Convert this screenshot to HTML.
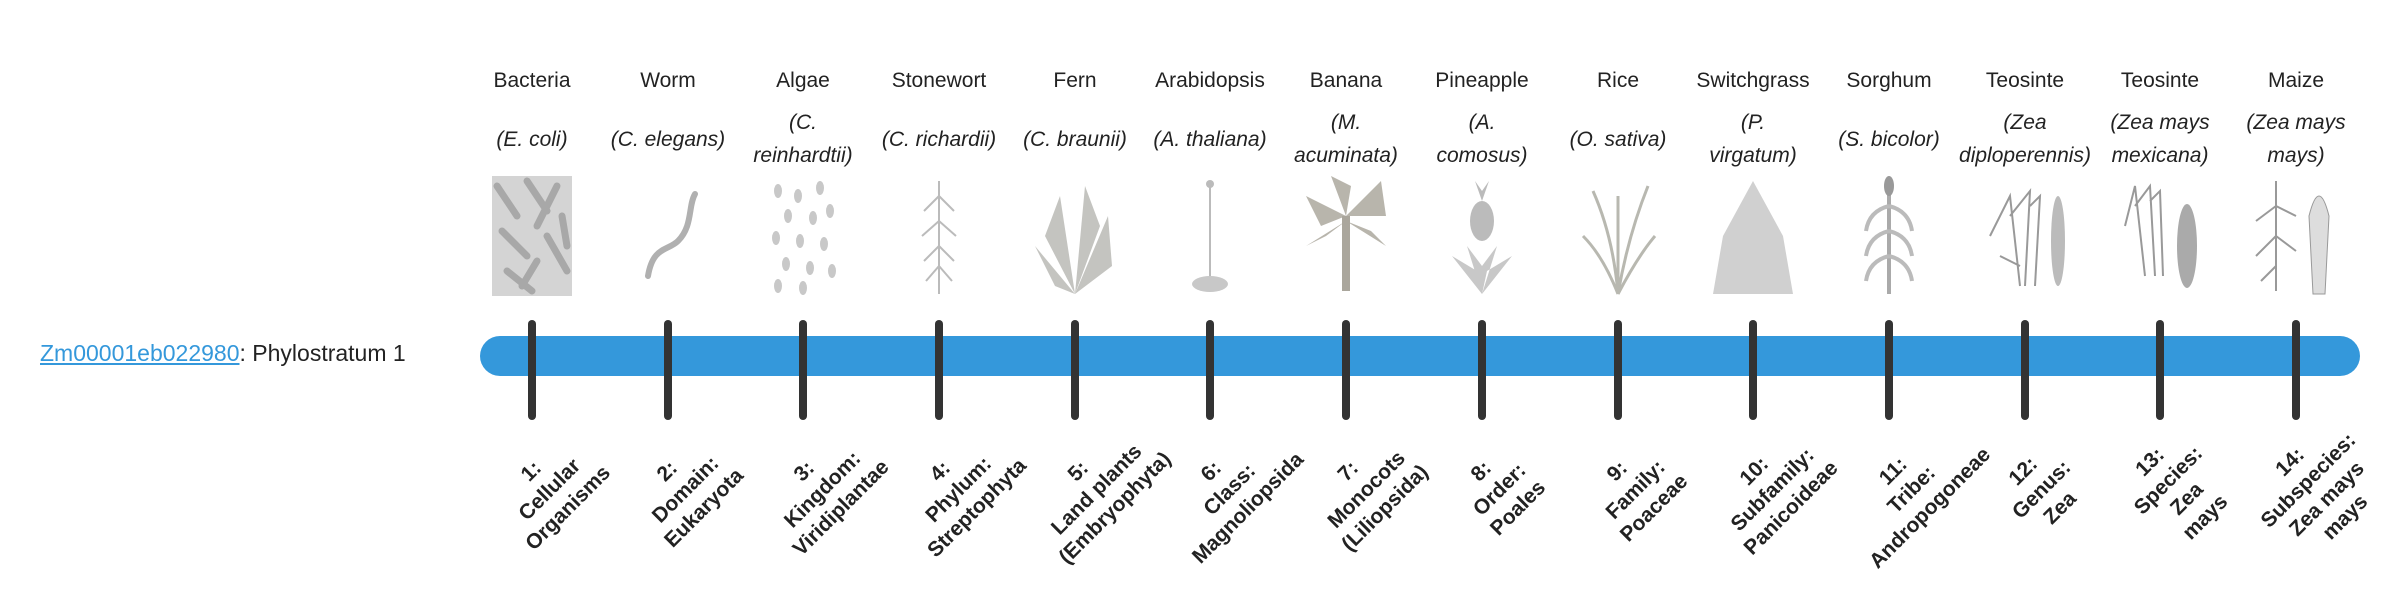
<!DOCTYPE html>
<html><head><meta charset="utf-8"><style>
html,body{margin:0;padding:0;background:#fff;width:2400px;height:580px;overflow:hidden;font-family:"Liberation Sans",sans-serif;color:#222}
.lk{position:absolute;left:40px;top:339px;font-size:23px;line-height:28px;white-space:nowrap}
.lk a{color:#3498db;text-decoration:underline}
.bar{position:absolute;left:480px;top:336px;width:1880px;height:40px;border-radius:20px;background:#3498db}
.t{position:absolute;top:320px;width:8px;height:100px;margin-left:-4px;border-radius:4px;background:#333}
.c{position:absolute;width:150px;margin-left:-75px;text-align:center}
.n{top:67px;font-size:21px;line-height:28px;white-space:nowrap}
.s{top:106px;height:66px;font-size:21px;line-height:33px;font-style:italic;display:flex;align-items:center;justify-content:center;white-space:nowrap}
.im{position:absolute;top:176px;width:90px;height:120px;margin-left:-45px}
.b{position:absolute;top:490px;width:190px;text-align:center;font-weight:bold;font-size:21px;line-height:26px;color:#222;transform:translate(-50%,-50%) rotate(-45deg);white-space:nowrap}
</style></head><body>
<div class="lk"><a>Zm00001eb022980</a>: Phylostratum 1</div>
<div class="bar"></div>

<div class="c n" style="left:532px">Bacteria</div>
<div class="c n" style="left:668px">Worm</div>
<div class="c n" style="left:803px">Algae</div>
<div class="c n" style="left:939px">Stonewort</div>
<div class="c n" style="left:1075px">Fern</div>
<div class="c n" style="left:1210px">Arabidopsis</div>
<div class="c n" style="left:1346px">Banana</div>
<div class="c n" style="left:1482px">Pineapple</div>
<div class="c n" style="left:1618px">Rice</div>
<div class="c n" style="left:1753px">Switchgrass</div>
<div class="c n" style="left:1889px">Sorghum</div>
<div class="c n" style="left:2025px">Teosinte</div>
<div class="c n" style="left:2160px">Teosinte</div>
<div class="c n" style="left:2296px">Maize</div>

<div class="c s" style="left:532px"><span>(E. coli)</span></div>
<div class="c s" style="left:668px"><span>(C. elegans)</span></div>
<div class="c s" style="left:803px"><span>(C.<br>reinhardtii)</span></div>
<div class="c s" style="left:939px"><span>(C. richardii)</span></div>
<div class="c s" style="left:1075px"><span>(C. braunii)</span></div>
<div class="c s" style="left:1210px"><span>(A. thaliana)</span></div>
<div class="c s" style="left:1346px"><span>(M.<br>acuminata)</span></div>
<div class="c s" style="left:1482px"><span>(A.<br>comosus)</span></div>
<div class="c s" style="left:1618px"><span>(O. sativa)</span></div>
<div class="c s" style="left:1753px"><span>(P.<br>virgatum)</span></div>
<div class="c s" style="left:1889px"><span>(S. bicolor)</span></div>
<div class="c s" style="left:2025px"><span>(Zea<br>diploperennis)</span></div>
<div class="c s" style="left:2160px"><span>(Zea mays<br>mexicana)</span></div>
<div class="c s" style="left:2296px"><span>(Zea mays<br>mays)</span></div>

<svg class="im" style="left:532px" viewBox="0 0 90 120"><rect x="5" y="0" width="80" height="120" fill="#d4d4d4"/><g stroke="#a8a8a8" stroke-width="7" stroke-linecap="round"><line x1="10" y1="10" x2="30" y2="40"/><line x1="40" y1="5" x2="60" y2="35"/><line x1="70" y1="10" x2="50" y2="50"/><line x1="15" y1="55" x2="40" y2="80"/><line x1="60" y1="60" x2="80" y2="95"/><line x1="20" y1="95" x2="45" y2="115"/><line x1="50" y1="85" x2="35" y2="110"/><line x1="75" y1="40" x2="80" y2="70"/></g></svg>
<svg class="im" style="left:668px" viewBox="0 0 90 120"><path d="M25 100 C30 70 45 75 55 65 C70 50 65 30 72 18" stroke="#b0b0b0" stroke-width="6" fill="none" stroke-linecap="round"/></svg>
<svg class="im" style="left:803px" viewBox="0 0 90 120"><g fill="#c8c8c8"><ellipse cx="20" cy="15" rx="4" ry="7"/><ellipse cx="40" cy="20" rx="4" ry="7"/><ellipse cx="62" cy="12" rx="4" ry="7"/><ellipse cx="30" cy="40" rx="4" ry="7"/><ellipse cx="55" cy="42" rx="4" ry="7"/><ellipse cx="72" cy="35" rx="4" ry="7"/><ellipse cx="18" cy="62" rx="4" ry="7"/><ellipse cx="42" cy="65" rx="4" ry="7"/><ellipse cx="66" cy="68" rx="4" ry="7"/><ellipse cx="28" cy="88" rx="4" ry="7"/><ellipse cx="52" cy="92" rx="4" ry="7"/><ellipse cx="74" cy="95" rx="4" ry="7"/><ellipse cx="20" cy="110" rx="4" ry="7"/><ellipse cx="45" cy="112" rx="4" ry="7"/></g></svg>
<svg class="im" style="left:939px" viewBox="0 0 90 120"><g stroke="#bbb" stroke-width="2" fill="none"><line x1="45" y1="5" x2="45" y2="118"/><path d="M45 20 L30 35 M45 20 L60 35 M45 45 L28 60 M45 45 L62 60 M45 70 L30 85 M45 70 L60 85 M45 90 L32 105 M45 90 L58 105"/></g></svg>
<svg class="im" style="left:1075px" viewBox="0 0 90 120"><path d="M45 118 L30 20 L15 60 Z M45 118 L55 10 L70 50 Z M45 118 L78 40 L82 90 Z M45 118 L5 70 L25 110 Z" fill="#c4c4c0"/></svg>
<svg class="im" style="left:1210px" viewBox="0 0 90 120"><g stroke="#bbb" stroke-width="2"><line x1="45" y1="8" x2="45" y2="105"/></g><ellipse cx="45" cy="108" rx="18" ry="8" fill="#c8c8c8"/><circle cx="45" cy="8" r="4" fill="#bbb"/></svg>
<svg class="im" style="left:1346px" viewBox="0 0 90 120"><path d="M45 40 L5 20 L20 50 Z M45 40 L30 0 L50 10 Z M45 40 L80 5 L85 40 Z M45 45 L5 70 L25 60 Z M45 45 L85 70 L70 55 Z" fill="#b8b5ac"/><rect x="41" y="40" width="8" height="75" fill="#aaa69c"/></svg>
<svg class="im" style="left:1482px" viewBox="0 0 90 120"><ellipse cx="45" cy="45" rx="12" ry="20" fill="#bbb"/><path d="M45 118 L15 80 L40 95 Z M45 118 L75 80 L50 95 Z M45 118 L30 70 L45 90 L60 70 Z" fill="#c8c8c8"/><path d="M45 25 L38 5 L45 15 L52 5 Z" fill="#bbb"/></svg>
<svg class="im" style="left:1618px" viewBox="0 0 90 120"><g stroke="#b8b8b0" stroke-width="3" fill="none"><path d="M45 118 Q40 60 20 15"/><path d="M45 118 Q55 60 75 10"/><path d="M45 118 Q45 60 45 20"/><path d="M45 118 Q30 80 10 60"/><path d="M45 118 Q65 80 82 60"/></g></svg>
<svg class="im" style="left:1753px" viewBox="0 0 90 120"><path d="M45 5 L15 60 L5 118 L85 118 L75 60 Z" fill="#d0d0d0"/></svg>
<svg class="im" style="left:1889px" viewBox="0 0 90 120"><rect x="43" y="10" width="4" height="108" fill="#aaa"/><ellipse cx="45" cy="10" rx="5" ry="10" fill="#999"/><g stroke="#bbb" stroke-width="4" fill="none"><path d="M45 30 Q25 35 22 55 M45 30 Q65 35 68 55 M45 55 Q25 60 22 80 M45 55 Q65 60 68 80 M45 80 Q25 85 22 105 M45 80 Q65 85 68 105"/></g></svg>
<svg class="im" style="left:2025px" viewBox="0 0 90 120"><g stroke="#999" stroke-width="2" fill="none"><path d="M10 60 L30 20 L40 110 M30 40 L50 15 L45 110 M50 30 L60 20 L55 110 M20 80 L40 90"/></g><ellipse cx="78" cy="65" rx="7" ry="45" fill="#bbb"/></svg>
<svg class="im" style="left:2160px" viewBox="0 0 90 120"><g stroke="#999" stroke-width="2" fill="none"><path d="M10 50 L20 10 L30 100 M20 30 L35 10 L40 100 M35 25 L45 15 L48 100"/></g><ellipse cx="72" cy="70" rx="10" ry="42" fill="#aaa"/></svg>
<svg class="im" style="left:2296px" viewBox="0 0 90 120"><g stroke="#999" stroke-width="2" fill="none"><line x1="25" y1="5" x2="25" y2="115"/><path d="M25 30 L5 45 M25 30 L45 40 M25 60 L5 80 M25 60 L45 75 M25 90 L10 105"/></g><path d="M62 118 L58 40 Q68 0 78 40 L74 118 Z" fill="#ddd" stroke="#999"/></svg>

<div class="t" style="left:532px"></div>
<div class="t" style="left:668px"></div>
<div class="t" style="left:803px"></div>
<div class="t" style="left:939px"></div>
<div class="t" style="left:1075px"></div>
<div class="t" style="left:1210px"></div>
<div class="t" style="left:1346px"></div>
<div class="t" style="left:1482px"></div>
<div class="t" style="left:1618px"></div>
<div class="t" style="left:1753px"></div>
<div class="t" style="left:1889px"></div>
<div class="t" style="left:2025px"></div>
<div class="t" style="left:2160px"></div>
<div class="t" style="left:2296px"></div>

<div class="b" style="left:550px">1:<br>Cellular<br>Organisms</div>
<div class="b" style="left:686px">2:<br>Domain:<br>Eukaryota</div>
<div class="b" style="left:823px">3:<br>Kingdom:<br>Viridiplantae</div>
<div class="b" style="left:959px">4:<br>Phylum:<br>Streptophyta</div>
<div class="b" style="left:1097px">5:<br>Land plants<br>(Embryophyta)</div>
<div class="b" style="left:1230px">6:<br>Class:<br>Magnoliopsida</div>
<div class="b" style="left:1367px">7:<br>Monocots<br>(Liliopsida)</div>
<div class="b" style="left:1500px">8:<br>Order:<br>Poales</div>
<div class="b" style="left:1636px">9:<br>Family:<br>Poaceae</div>
<div class="b" style="left:1773px">10:<br>Subfamily:<br>Panicoideae</div>
<div class="b" style="left:1912px">11:<br>Tribe:<br>Andropogoneae</div>
<div class="b" style="left:2042px">12:<br>Genus:<br>Zea</div>
<div class="b" style="left:2178px">13:<br>Species:<br>Zea<br>mays</div>
<div class="b" style="left:2318px">14:<br>Subspecies:<br>Zea mays<br>mays</div>
</body></html>
